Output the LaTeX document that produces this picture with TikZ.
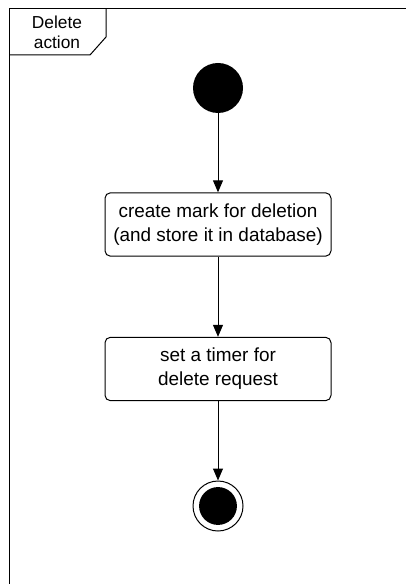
\documentclass[tikz,border=0pt]{standalone}
\usepackage{fontspec}
\setmainfont{Liberation Sans}
\usetikzlibrary{arrows.meta, positioning}

\begin{document}
\begin{tikzpicture}[
x=0.75pt, y=-0.75pt,
line width=0.75pt,
every node/.style={
    align=center,
    font=\fontsize{14.2pt}{18pt}\selectfont,
    },
action/.style={
    rectangle,
    rounded corners=4pt,
    draw,
    minimum width=169.5pt,
    minimum height=47.5pt,
    inner sep=0pt,
    },
initstate/.style={
    circle,
    fill,
    minimum size=37.5pt,
    inner sep=0pt,
    },
endstate/.style={
    circle,
    draw,
    minimum size=37.5pt,
    inner sep=0pt,
    path picture={\fill (path picture bounding box.center) circle (14.2pt);},
    },
every edge/.style={
    draw,
    -{Triangle[length=9pt,width=7.5pt]},
    },
]
\useasboundingbox (0,0) rectangle (406,584);
% frame and its label
\draw (9,584) -- (9,9) -- (406,9);
\draw (9,55) -- (90,55) -- (106,37) -- (106,9);
\node (frame) [font=\fontsize{13pt}{15pt}\selectfont] at (57,32) 
          {Delete\\action};

\node (start) [initstate] at (218,88) {};
\node (mark) [action] at (218,224.5) 
          {create mark for deletion\\(and store it in database)};
\node (timer) [action] at (218,369) {set a timer for\\delete request};
\node (end) [endstate] at (218,506) {};
\path (start) edge (mark)
      (mark) edge (timer)
      (timer) edge (end);
\end{tikzpicture}
\end{document}
